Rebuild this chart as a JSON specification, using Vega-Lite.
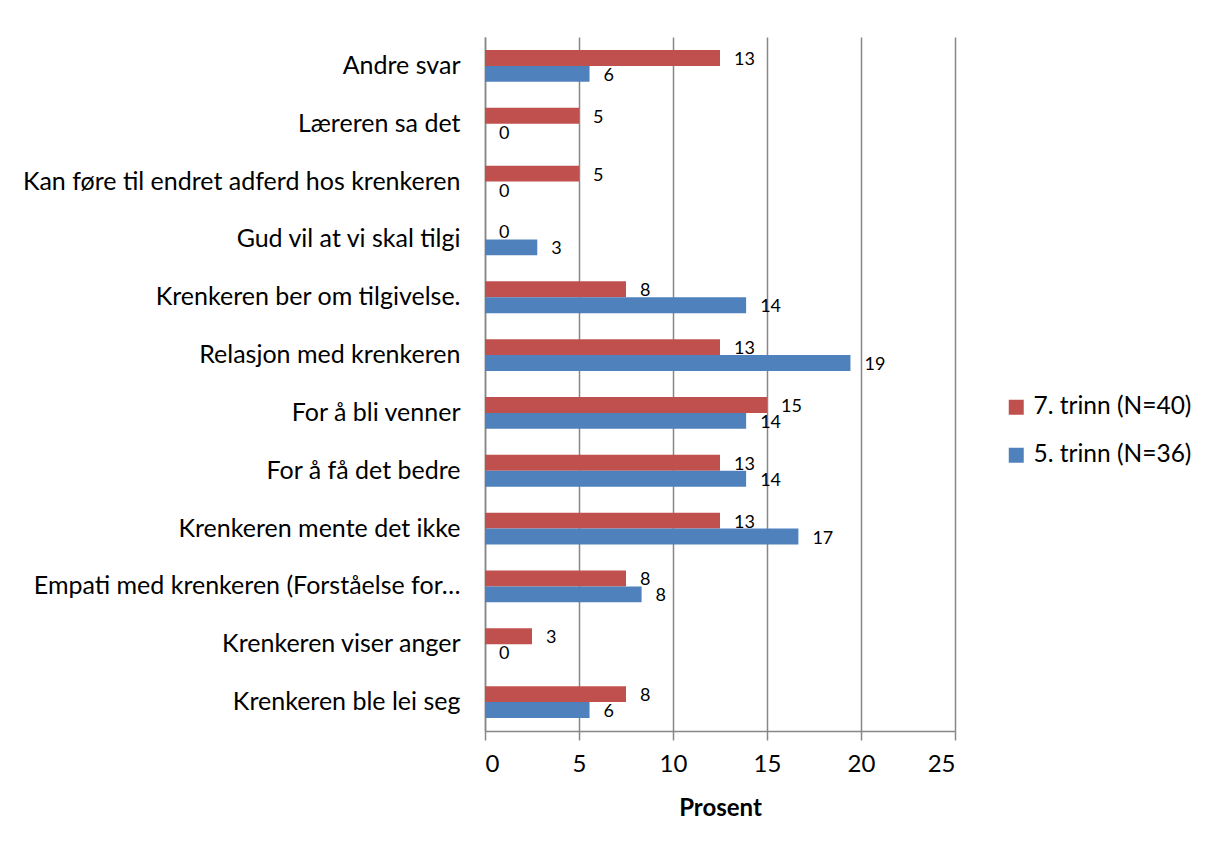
{
  "$schema": "https://vega.github.io/schema/vega-lite/v6.json",
  "width": 470,
  "height": 694,
  "autosize": "none",
  "padding": {"left": 485, "top": 37, "right": 258, "bottom": 119},
  "background": "white",
  "config": {"view": {"stroke": null}, "font": "Lato"},
  "data": {
    "values": [
      {"svar": "Andre svar", "gruppe": "7. trinn (N=40)", "prosent": 12.5},
      {"svar": "Andre svar", "gruppe": "5. trinn (N=36)", "prosent": 5.56},
      {"svar": "Læreren sa det", "gruppe": "7. trinn (N=40)", "prosent": 5},
      {"svar": "Læreren sa det", "gruppe": "5. trinn (N=36)", "prosent": 0},
      {"svar": "Kan føre til endret adferd hos krenkeren", "gruppe": "7. trinn (N=40)", "prosent": 5},
      {"svar": "Kan føre til endret adferd hos krenkeren", "gruppe": "5. trinn (N=36)", "prosent": 0},
      {"svar": "Gud vil at vi skal tilgi", "gruppe": "7. trinn (N=40)", "prosent": 0},
      {"svar": "Gud vil at vi skal tilgi", "gruppe": "5. trinn (N=36)", "prosent": 2.78},
      {"svar": "Krenkeren ber om tilgivelse.", "gruppe": "7. trinn (N=40)", "prosent": 7.5},
      {"svar": "Krenkeren ber om tilgivelse.", "gruppe": "5. trinn (N=36)", "prosent": 13.89},
      {"svar": "Relasjon med krenkeren", "gruppe": "7. trinn (N=40)", "prosent": 12.5},
      {"svar": "Relasjon med krenkeren", "gruppe": "5. trinn (N=36)", "prosent": 19.44},
      {"svar": "For å bli venner", "gruppe": "7. trinn (N=40)", "prosent": 15},
      {"svar": "For å bli venner", "gruppe": "5. trinn (N=36)", "prosent": 13.89},
      {"svar": "For å få det bedre", "gruppe": "7. trinn (N=40)", "prosent": 12.5},
      {"svar": "For å få det bedre", "gruppe": "5. trinn (N=36)", "prosent": 13.89},
      {"svar": "Krenkeren mente det ikke", "gruppe": "7. trinn (N=40)", "prosent": 12.5},
      {"svar": "Krenkeren mente det ikke", "gruppe": "5. trinn (N=36)", "prosent": 16.67},
      {"svar": "Empati med krenkeren (Forståelse for…", "gruppe": "7. trinn (N=40)", "prosent": 7.5},
      {"svar": "Empati med krenkeren (Forståelse for…", "gruppe": "5. trinn (N=36)", "prosent": 8.33},
      {"svar": "Krenkeren viser anger", "gruppe": "7. trinn (N=40)", "prosent": 2.5},
      {"svar": "Krenkeren viser anger", "gruppe": "5. trinn (N=36)", "prosent": 0},
      {"svar": "Krenkeren ble lei seg", "gruppe": "7. trinn (N=40)", "prosent": 7.5},
      {"svar": "Krenkeren ble lei seg", "gruppe": "5. trinn (N=36)", "prosent": 5.56}
    ]
  },
  "encoding": {
    "y": {
      "field": "svar", "type": "nominal", "sort": null,
      "scale": {"paddingInner": 0.45, "paddingOuter": 0.225},
      "axis": {"title": null, "ticks": false, "labelPadding": 25, "labelFontSize": 25, "labelColor": "#000000", "domainColor": "#878787", "domainWidth": 1.5, "labelLimit": 0, "grid": false}
    },
    "yOffset": {"field": "gruppe", "type": "nominal", "sort": ["7. trinn (N=40)", "5. trinn (N=36)"]},
    "x": {
      "field": "prosent", "type": "quantitative",
      "scale": {"domain": [0, 25], "nice": false},
      "axis": {"values": [0, 5, 10, 15, 20, 25], "title": "Prosent", "titleFontSize": 24, "titleFontWeight": "bold", "titleColor": "#000000", "titlePadding": 20, "labelFontSize": 24, "labelColor": "#000000", "labelPadding": 12, "tickSize": 9, "tickColor": "#878787", "tickWidth": 1.5, "domainColor": "#878787", "domainWidth": 1.5, "grid": true, "gridColor": "#878787", "gridWidth": 1.5}
    }
  },
  "layer": [
    {
      "mark": {"type": "bar"},
      "encoding": {
        "color": {
          "field": "gruppe", "type": "nominal",
          "scale": {"domain": ["7. trinn (N=40)", "5. trinn (N=36)"], "range": ["#C0504D", "#4F81BD"]},
          "legend": {"title": null, "orient": "none", "legendX": 519, "legendY": 358, "symbolType": "square", "symbolSize": 225, "symbolStrokeWidth": 0, "labelFontSize": 24.5, "labelColor": "#000000", "labelOffset": 5, "rowPadding": 23}
        }
      }
    },
    {
      "mark": {"type": "text", "align": "left", "baseline": "middle", "dx": 14, "dy": 2, "fontSize": 18, "color": "#000000"},
      "encoding": {"text": {"field": "prosent", "type": "quantitative", "format": ".0f"}}
    }
  ]
}
